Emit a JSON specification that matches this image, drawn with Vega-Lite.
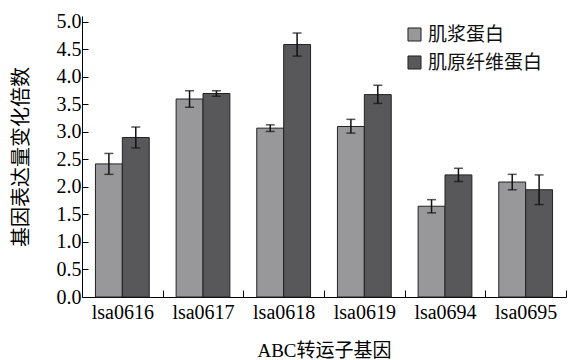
{
  "$schema": "https://vega.github.io/schema/vega-lite/v6.json",
  "width": 484,
  "height": 281,
  "autosize": {"type": "none"},
  "padding": {"left": 82, "top": 16, "right": 2, "bottom": 63},
  "background": "white",
  "config": {
    "view": {"stroke": null},
    "font": "Liberation Serif, Noto Sans CJK SC",
    "axis": {"labelOverlap": false, "grid": false},
    "axisY": {"format": ".1f", "tickSize": -6, "labelPadding": 7,
      "domainColor": "#000", "tickColor": "#000", "labelColor": "#000",
      "labelFontSize": 20, "titleFontSize": 20, "titleFontWeight": "normal", "titleColor": "#000",
      "titlePadding": 25}
  },
  "data": {"values": [
    {"gene": "lsa0616", "type": "肌浆蛋白", "value": 2.42, "lo": 2.23, "hi": 2.61},
    {"gene": "lsa0616", "type": "肌原纤维蛋白", "value": 2.90, "lo": 2.71, "hi": 3.09},
    {"gene": "lsa0617", "type": "肌浆蛋白", "value": 3.60, "lo": 3.45, "hi": 3.75},
    {"gene": "lsa0617", "type": "肌原纤维蛋白", "value": 3.70, "lo": 3.65, "hi": 3.75},
    {"gene": "lsa0618", "type": "肌浆蛋白", "value": 3.07, "lo": 3.01, "hi": 3.13},
    {"gene": "lsa0618", "type": "肌原纤维蛋白", "value": 4.59, "lo": 4.38, "hi": 4.80},
    {"gene": "lsa0619", "type": "肌浆蛋白", "value": 3.10, "lo": 2.98, "hi": 3.23},
    {"gene": "lsa0619", "type": "肌原纤维蛋白", "value": 3.68, "lo": 3.52, "hi": 3.85},
    {"gene": "lsa0694", "type": "肌浆蛋白", "value": 1.65, "lo": 1.53, "hi": 1.77},
    {"gene": "lsa0694", "type": "肌原纤维蛋白", "value": 2.22, "lo": 2.10, "hi": 2.34},
    {"gene": "lsa0695", "type": "肌浆蛋白", "value": 2.09, "lo": 1.95, "hi": 2.23},
    {"gene": "lsa0695", "type": "肌原纤维蛋白", "value": 1.95, "lo": 1.68, "hi": 2.22}
  ]},
  "encoding": {
    "x": {
      "field": "gene", "type": "nominal", "sort": null,
      "scale": {"paddingInner": 0, "paddingOuter": 0},
      "axis": {
        "title": "ABC转运子基因", "labelAngle": 0, "tickBand": "extent", "tickSize": -7,
        "labelPadding": 12, "domainColor": "#000", "tickColor": "#000", "labelColor": "#000",
        "labelFontSize": 20, "titleFontSize": 19, "titleFontWeight": "normal", "titleColor": "#000",
        "titlePadding": 19
      }
    },
    "xOffset": {
      "field": "type", "type": "nominal", "sort": ["肌浆蛋白", "肌原纤维蛋白"],
      "scale": {"paddingInner": 0, "paddingOuter": 0.5}
    }
  },
  "layer": [
    {
      "mark": {"type": "bar", "stroke": "#222", "strokeWidth": 1},
      "encoding": {
        "y": {
          "field": "value", "type": "quantitative", "scale": {"domain": [0, 5.109], "nice": false},
          "title": "基因表达量变化倍数"
        },
        "color": {
          "field": "type", "type": "nominal",
          "scale": {"domain": ["肌浆蛋白", "肌原纤维蛋白"], "range": ["#98989a", "#58585a"]},
          "legend": {
            "orient": "none", "legendX": 323, "legendY": 9, "title": null,
            "symbolType": "square", "symbolSize": 170, "symbolStrokeColor": "#222",
            "symbolStrokeWidth": 1, "labelFontSize": 19, "labelFont": "Noto Sans CJK SC",
            "labelColor": "#111", "rowPadding": 8, "labelOffset": 4
          }
        }
      }
    },
    {
      "mark": {"type": "rule", "color": "#111", "strokeWidth": 1.5},
      "encoding": {
        "y": {"field": "lo", "type": "quantitative", "title": "基因表达量变化倍数"},
        "y2": {"field": "hi"}
      }
    },
    {
      "mark": {"type": "tick", "color": "#111", "thickness": 1.5, "size": 9},
      "encoding": {"y": {"field": "lo", "type": "quantitative", "title": "基因表达量变化倍数"}}
    },
    {
      "mark": {"type": "tick", "color": "#111", "thickness": 1.5, "size": 9},
      "encoding": {"y": {"field": "hi", "type": "quantitative", "title": "基因表达量变化倍数"}}
    }
  ]
}
